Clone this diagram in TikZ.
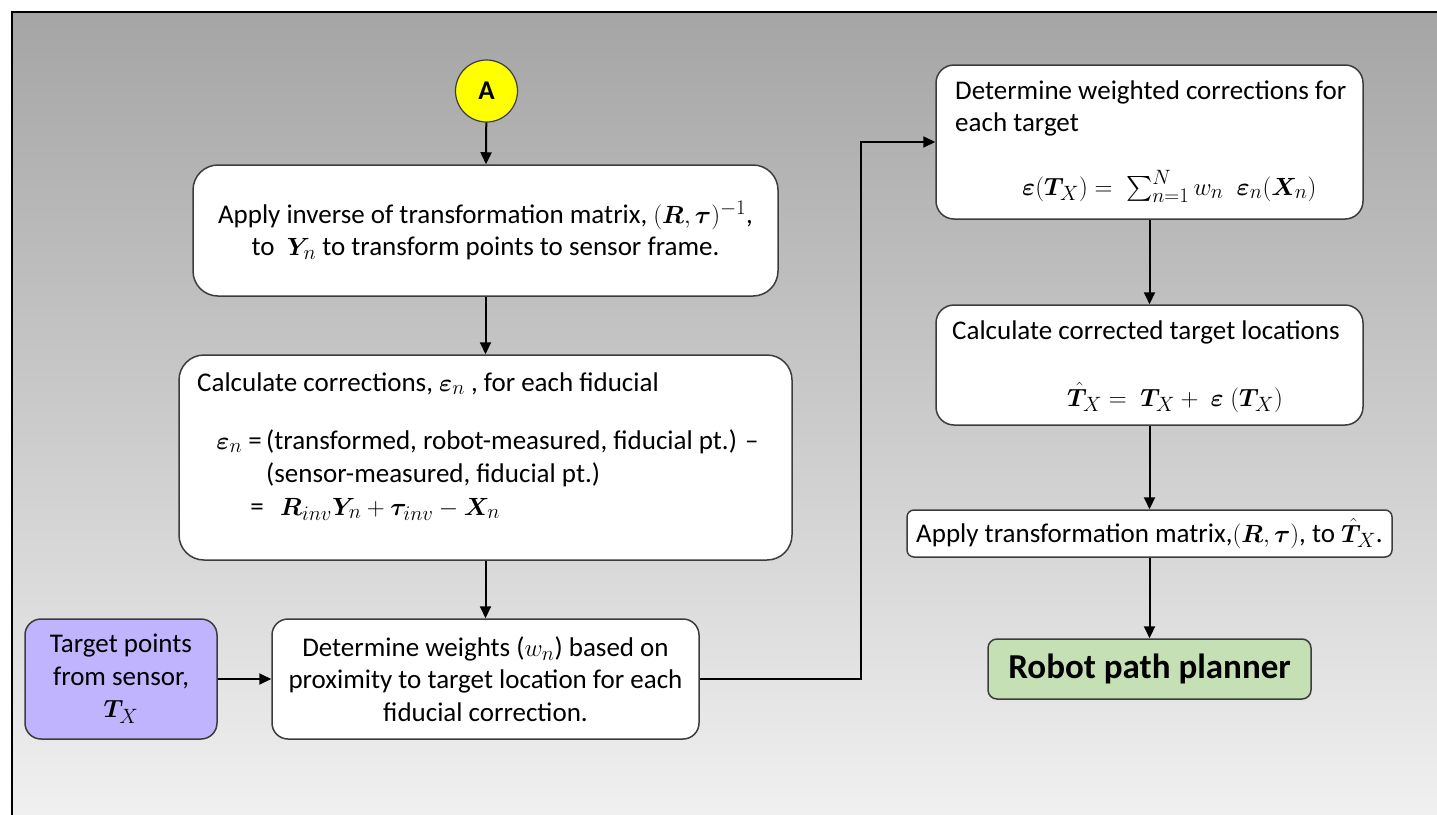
\documentclass[tikz,border=0pt]{standalone}
\usepackage{fontspec}
\setmainfont{Carlito}
\usepackage{amsmath}
\usepackage{bm}
\usetikzlibrary{arrows.meta,calc}
\definecolor{boxline}{HTML}{3C3C3C}
\definecolor{bgtop}{HTML}{A5A5A5}
\definecolor{bgbot}{HTML}{F0F0F0}
\definecolor{lav}{RGB}{192,180,255}
\definecolor{pale}{HTML}{C5E0B4}
\definecolor{yel}{HTML}{FFFF00}
\newcommand\mth[1]{{\fontsize{29}{32.5}\selectfont$#1$}}
\begin{document}
\begin{tikzpicture}[x=1pt,y=-1pt,
  box/.style={draw=boxline, line width=1.5pt, fill=white, inner sep=0pt, align=center, font=\fontsize{27}{32.5}\selectfont},
  conn/.style={draw=black, line width=2pt, -{Triangle[length=12pt,width=11pt]}},
  txt/.style={inner sep=0pt, anchor=base west, font=\fontsize{27}{32.5}\selectfont}
]
\useasboundingbox (0,0) rectangle (1437,814);
% background
\fill[top color=bgtop, bottom color=bgbot] (12,12) rectangle (1437,814);
\draw[line width=2.2pt, line cap=rect] (12,814) -- (12,12) -- (1437,12);

% nodes
\node[circle, draw=boxline, line width=1.2pt, fill=yel, minimum size=62pt, inner sep=0pt, font=\fontsize{27}{30}\selectfont\bfseries] (A) at (486.5,91) {A};

\node[box, rounded corners=25pt, minimum width=585pt, minimum height=131pt] (b1) at (485.5,230.5)
  {Apply inverse of transformation matrix, \mth{(\bm{R},\bm{\tau})^{-1}},\\ to \ \mth{\bm{Y}_n} to transform points to sensor frame.};

\node[box, rounded corners=25pt, minimum width=613pt, minimum height=205pt] (b2) at (485.5,457.5) {};
\node[txt] (b2l1) at (197,391) {Calculate corrections, \mth{\bm{\varepsilon}_n} , for each fiducial};
\node[txt, anchor=base east] (b2l2a) at (262,449) {\mth{\bm{\varepsilon}_n} =};
\node[txt] (b2l2) at (266,449) {(transformed, robot-measured, fiducial pt.) –};
\node[txt] (b2l3) at (266,482) {(sensor-measured, fiducial pt.)};
\node[txt, anchor=base east] (b2l4a) at (264,515) {=};
\node[txt] (b2l4) at (280,515) {\mth{\bm{R}_{inv}\bm{Y}_n+\bm{\tau}_{inv}-\bm{X}_n}};

\node[box, rounded corners=16pt, fill=lav, minimum width=192pt, minimum height=120pt] (tp) at (121,679)
  {Target points\\ from sensor,\\ \mth{\bm{T}_X}};
\node[box, rounded corners=16pt, minimum width=427pt, minimum height=120pt] (w) at (485.5,679)
  {Determine weights (\mth{w_n}) based on\\ proximity to target location for each\\ fiducial correction.};

\node[box, rounded corners=18pt, minimum width=427pt, minimum height=154pt] (r1) at (1149.5,142) {};
\node[txt] (r1l1) at (955,99) {Determine weighted corrections for};
\node[txt] (r1l2) at (955,131) {each target};
\node[txt] (r1l3) at (1022,195) {\mth{\bm{\varepsilon}(\bm{T}_X) =\ \sum_{n=1}^{N} w_n\ \ \bm{\varepsilon}_n(\bm{X}_n)}};

\node[box, rounded corners=18pt, minimum width=427pt, minimum height=120pt] (r2) at (1149.5,365) {};
\node[txt] (r2l1) at (952,339) {Calculate corrected target locations};
\node[txt] (r2l2) at (1067,406) {\mth{\hat{\bm{T}}_X =\ \bm{T}_X +\ \bm{\varepsilon}\ (\bm{T}_X)}};

\node[box, rounded corners=7pt, minimum width=485pt, minimum height=47pt] (r3) at (1149.5,533.5)
  {Apply transformation matrix,\mth{(\bm{R},\bm{\tau})}, to \mth{\hat{\bm{T}}_X}.};

\node[box, rounded corners=9pt, fill=pale, minimum width=323pt, minimum height=60pt, font=\fontsize{35}{40}\selectfont\bfseries] (rp) at (1149.5,669) {Robot path planner};

% connectors
\draw[conn] (A) -- (b1);
\draw[conn] (b1) -- (b2);
\draw[conn] (b2) -- (w);
\draw[conn] (tp) -- (w);
\coordinate (elb) at (861,679);
\draw[conn] (w.east) -- (elb) |- (r1.west);
\draw[conn] (r1) -- (r2);
\draw[conn] (r2) -- (r3);
\draw[conn] (r3) -- (rp);
\end{tikzpicture}
\end{document}
